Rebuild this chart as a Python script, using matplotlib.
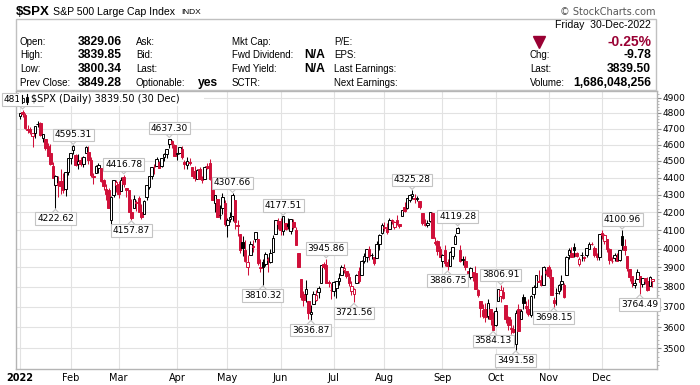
import numpy as np
import pandas as pd
import matplotlib
matplotlib.use("Agg")
import matplotlib.pyplot as plt
from matplotlib.lines import Line2D
from matplotlib.patches import Rectangle
from matplotlib.ticker import FixedLocator, FixedFormatter, NullFormatter

# trading days of 2022, by month
trading_days = {
    1: [3, 4, 5, 6, 7, 10, 11, 12, 13, 14, 18, 19, 20, 21, 24, 25, 26, 27, 28, 31],
    2: [1, 2, 3, 4, 7, 8, 9, 10, 11, 14, 15, 16, 17, 18, 22, 23, 24, 25, 28],
    3: [1, 2, 3, 4, 7, 8, 9, 10, 11, 14, 15, 16, 17, 18, 21, 22, 23, 24, 25, 28, 29, 30, 31],
    4: [1, 4, 5, 6, 7, 8, 11, 12, 13, 14, 18, 19, 20, 21, 22, 25, 26, 27, 28, 29],
    5: [2, 3, 4, 5, 6, 9, 10, 11, 12, 13, 16, 17, 18, 19, 20, 23, 24, 25, 26, 27, 31],
    6: [1, 2, 3, 6, 7, 8, 9, 10, 13, 14, 15, 16, 17, 21, 22, 23, 24, 27, 28, 29, 30],
    7: [1, 5, 6, 7, 8, 11, 12, 13, 14, 15, 18, 19, 20, 21, 22, 25, 26, 27, 28, 29],
    8: [1, 2, 3, 4, 5, 8, 9, 10, 11, 12, 15, 16, 17, 18, 19, 22, 23, 24, 25, 26, 29, 30, 31],
    9: [1, 2, 6, 7, 8, 9, 12, 13, 14, 15, 16, 19, 20, 21, 22, 23, 26, 27, 28, 29, 30],
    10: [3, 4, 5, 6, 7, 10, 11, 12, 13, 14, 17, 18, 19, 20, 21, 24, 25, 26, 27, 28, 31],
    11: [1, 2, 3, 4, 7, 8, 9, 10, 11, 14, 15, 16, 17, 18, 21, 22, 23, 25, 28, 29, 30],
    12: [1, 2, 5, 6, 7, 8, 9, 12, 13, 14, 15, 16, 19, 20, 21, 22, 23, 27, 28, 29, 30],
}

opens = [
    4778.14, 4804.51, 4787.99, 4693.39, 4697.66, 4655.34, 4669.14, 4728.59, 4733.56, 4637.99,
    4632.24, 4588.03, 4547.35, 4471.38, 4356.32, 4366.64, 4380.58, 4380.58, 4336.19, 4431.79,
    4519.57, 4566.39, 4535.41, 4482.79, 4505.75, 4480.02, 4547.00, 4553.24, 4506.27, 4412.61,
    4429.28, 4455.75, 4456.06, 4384.57, 4332.74, 4324.93, 4155.77, 4298.38, 4354.17,
    4363.14, 4322.56, 4401.31, 4342.12, 4327.01, 4202.66, 4223.10, 4252.55, 4279.50, 4202.75,
    4188.82, 4288.14, 4345.11, 4407.34, 4462.40, 4469.10, 4493.10, 4469.98, 4522.91, 4541.09,
    4602.86, 4624.20, 4599.02,
    4540.32, 4547.97, 4572.45, 4494.17, 4474.65, 4494.15, 4462.64, 4437.59, 4394.30, 4449.12,
    4385.63, 4390.63, 4472.26, 4489.17, 4385.83, 4255.34, 4278.14, 4186.52, 4222.58, 4253.75,
    4130.61, 4159.78, 4181.18, 4270.43, 4128.17, 4081.27, 4035.18, 3990.08, 3903.95, 3963.90,
    4013.02, 4052.00, 4051.98, 3899.00, 3927.76, 3919.42, 3942.94, 3929.59, 3984.60, 4077.43,
    4151.09,
    4149.78, 4095.41, 4137.57, 4134.72, 4096.47, 4147.12, 4101.65, 3974.39, 3838.15, 3763.52,
    3764.05, 3728.18, 3665.90, 3715.31, 3733.89, 3774.71, 3821.75, 3920.76, 3913.00, 3825.09,
    3785.99,
    3781.00, 3792.61, 3831.98, 3858.85, 3888.26, 3880.94, 3851.95, 3779.67, 3763.99, 3818.00,
    3883.79, 3860.73, 3935.32, 3955.47, 3998.43, 3965.72, 3953.22, 3951.43, 4026.13, 4087.33,
    4112.38, 4104.21, 4107.96, 4154.85, 4115.87, 4155.93, 4133.11, 4181.02, 4227.40, 4225.02,
    4269.37, 4290.46, 4280.40, 4273.13, 4266.31, 4195.08, 4133.09, 4126.55, 4153.26, 4198.74,
    4034.58, 4041.25, 4000.67,
    3936.73, 3994.66, 3930.89, 3909.43, 3959.94, 4022.94, 4083.67, 3990.97, 3940.73, 3932.41,
    3880.95, 3849.91, 3875.23, 3871.40, 3782.36, 3727.14, 3682.72, 3686.44, 3651.94, 3687.01,
    3633.48,
    3609.78, 3726.46, 3753.25, 3771.97, 3706.74, 3647.51, 3595.86, 3590.83, 3520.37, 3690.41,
    3638.65, 3746.26, 3703.11, 3689.05, 3657.10, 3762.01, 3799.44, 3825.97, 3834.69, 3808.26,
    3881.85,
    3901.79, 3852.90, 3733.25, 3766.98, 3780.71, 3817.02, 3810.94, 3859.89, 3963.72, 3977.97,
    4006.41, 3976.82, 3919.26, 3966.39, 3956.23, 3965.51, 4000.30, 4023.34, 4005.36, 3964.19,
    3957.18,
    4087.14, 4040.17, 4052.02, 3996.63, 3933.28, 3947.79, 3954.17, 3939.29, 4069.38, 4015.54,
    3958.37, 3890.91, 3853.79, 3810.47, 3839.49, 3853.26, 3815.11, 3843.34, 3829.56, 3805.45,
    3829.06,
]
highs = [
    4796.64, 4818.62, 4797.70, 4725.01, 4707.95, 4673.02, 4714.13, 4748.83, 4744.13, 4665.13,
    4632.24, 4611.55, 4602.11, 4494.52, 4417.35, 4411.01, 4453.23, 4428.74, 4432.72, 4516.89,
    4550.49, 4595.31, 4542.88, 4539.66, 4521.86, 4531.32, 4590.03, 4588.92, 4526.33, 4426.22,
    4472.77, 4489.55, 4456.06, 4394.60, 4362.12, 4341.51, 4294.73, 4385.34, 4388.84,
    4378.45, 4401.48, 4416.78, 4342.12, 4327.01, 4276.94, 4299.40, 4268.28, 4291.01, 4247.57,
    4271.05, 4357.86, 4412.67, 4465.40, 4481.75, 4522.00, 4501.07, 4520.58, 4546.03, 4575.65,
    4637.30, 4627.77, 4603.07,
    4548.70, 4583.50, 4593.45, 4503.94, 4521.16, 4520.41, 4464.35, 4471.00, 4453.92, 4460.46,
    4410.31, 4471.03, 4488.29, 4512.94, 4385.83, 4299.02, 4278.14, 4240.71, 4308.45, 4269.68,
    4169.81, 4200.10, 4307.66, 4270.43, 4157.69, 4081.27, 4068.82, 4049.09, 3964.80, 4038.88,
    4046.46, 4090.72, 4051.98, 3945.96, 3943.42, 3981.88, 3955.68, 3999.33, 4075.14, 4158.49,
    4168.34,
    4166.54, 4177.51, 4142.67, 4168.78, 4164.86, 4160.14, 4119.10, 3974.39, 3838.15, 3778.18,
    3837.56, 3728.18, 3707.71, 3779.65, 3785.99, 3802.58, 3913.65, 3927.72, 3945.86, 3836.50,
    3818.99,
    3829.82, 3832.19, 3870.91, 3910.63, 3918.50, 3880.94, 3873.41, 3829.44, 3796.41, 3863.62,
    3902.44, 3939.81, 3974.13, 3999.29, 4012.44, 3975.30, 3953.22, 4039.56, 4078.95, 4140.15,
    4144.95, 4140.47, 4167.66, 4161.29, 4151.58, 4186.62, 4137.30, 4211.03, 4257.91, 4280.47,
    4301.79, 4325.28, 4302.18, 4292.53, 4266.31, 4195.08, 4159.77, 4156.56, 4200.54, 4203.04,
    4062.99, 4044.98, 4015.37,
    3970.23, 4018.43, 3942.55, 3987.89, 4010.50, 4076.81, 4119.28, 4017.42, 3961.94, 3959.14,
    3880.95, 3900.45, 3876.01, 3907.07, 3790.68, 3727.14, 3715.67, 3717.53, 3736.74, 3687.01,
    3671.44,
    3698.35, 3790.93, 3806.91, 3797.93, 3706.74, 3652.17, 3640.66, 3608.34, 3685.41, 3712.00,
    3689.73, 3762.79, 3728.58, 3736.00, 3757.89, 3810.74, 3862.85, 3886.15, 3859.95, 3905.42,
    3893.73,
    3911.79, 3894.44, 3750.59, 3796.34, 3813.95, 3859.40, 3818.20, 3958.33, 4001.48, 4008.97,
    4028.84, 3983.09, 3954.33, 3979.89, 3962.00, 4005.88, 4033.78, 4034.02, 4012.27, 3976.77,
    4080.11,
    4100.51, 4080.48, 4052.45, 4001.51, 3957.57, 3974.19, 3977.02, 3990.71, 4100.96, 4053.76,
    3958.37, 3890.91, 3854.86, 3838.24, 3889.82, 3853.26, 3845.80, 3846.65, 3848.32, 3858.19,
    3839.85,
]
lows = [
    4758.17, 4774.27, 4699.44, 4671.26, 4662.74, 4582.24, 4638.27, 4706.71, 4650.29, 4614.75,
    4568.70, 4530.20, 4477.95, 4395.34, 4222.62, 4287.11, 4304.80, 4309.50, 4292.46, 4414.02,
    4483.53, 4544.32, 4470.39, 4451.50, 4471.47, 4465.40, 4547.00, 4484.31, 4401.41, 4364.84,
    4429.28, 4429.68, 4373.81, 4327.22, 4267.11, 4221.51, 4114.65, 4286.83, 4315.12,
    4279.54, 4322.56, 4345.56, 4284.98, 4199.85, 4157.87, 4223.10, 4209.80, 4200.49, 4161.72,
    4187.90, 4267.66, 4335.65, 4390.57, 4424.30, 4469.10, 4455.81, 4465.17, 4501.07, 4517.69,
    4581.34, 4581.32, 4530.41,
    4507.57, 4539.21, 4514.17, 4450.04, 4450.30, 4474.60, 4408.38, 4381.34, 4392.70, 4390.77,
    4370.30, 4390.63, 4448.76, 4384.47, 4267.62, 4200.82, 4175.04, 4162.90, 4188.63, 4124.28,
    4062.51, 4147.08, 4148.91, 4106.01, 4067.91, 3975.48, 3958.17, 3928.82, 3858.87, 3963.90,
    3983.99, 4033.93, 3911.91, 3876.58, 3810.32, 3909.04, 3875.13, 3925.03, 3984.60, 4077.43,
    4104.88,
    4073.85, 4074.37, 4098.67, 4109.18, 4080.19, 4107.20, 4017.17, 3900.16, 3734.30, 3705.68,
    3722.30, 3639.77, 3636.87, 3715.31, 3729.25, 3743.52, 3821.75, 3889.66, 3820.14, 3799.02,
    3738.67,
    3752.10, 3742.06, 3809.37, 3858.85, 3869.34, 3847.22, 3802.36, 3758.89, 3721.56, 3817.18,
    3818.63, 3860.73, 3922.03, 3927.64, 3938.85, 3943.46, 3910.74, 3951.43, 3992.97, 4079.22,
    4096.02, 4079.81, 4107.96, 4135.42, 4107.31, 4128.97, 4112.09, 4177.26, 4201.41, 4219.78,
    4256.90, 4277.77, 4253.08, 4261.98, 4218.70, 4129.86, 4124.03, 4119.97, 4147.59, 4057.66,
    4017.42, 3965.21, 3954.53,
    3903.65, 3906.21, 3886.75, 3906.03, 3944.81, 4022.94, 4083.67, 3928.77, 3912.77, 3888.28,
    3837.08, 3838.50, 3827.54, 3789.49, 3749.02, 3647.47, 3644.76, 3623.29, 3640.61, 3610.40,
    3584.13,
    3604.93, 3726.46, 3722.66, 3739.22, 3620.73, 3588.10, 3568.45, 3573.86, 3491.58, 3579.68,
    3638.65, 3686.53, 3666.51, 3656.44, 3647.42, 3741.65, 3799.44, 3824.07, 3803.79, 3808.26,
    3863.18,
    3843.80, 3758.68, 3698.15, 3708.84, 3764.70, 3786.28, 3744.22, 3859.89, 3944.82, 3956.40,
    3953.17, 3954.34, 3906.54, 3935.98, 3933.34, 3956.88, 3998.66, 4020.76, 3955.77, 3937.65,
    3938.58,
    4050.87, 4026.63, 3984.49, 3918.39, 3922.68, 3935.83, 3933.04, 3935.30, 3993.03, 3965.65,
    3879.45, 3827.91, 3800.04, 3795.62, 3839.49, 3764.49, 3797.01, 3813.22, 3780.78, 3805.45,
    3800.34,
]
closes = [
    4796.56, 4793.54, 4700.58, 4696.05, 4677.03, 4670.29, 4713.07, 4726.35, 4659.03, 4662.85,
    4577.11, 4532.76, 4482.73, 4397.94, 4410.13, 4356.45, 4349.93, 4326.51, 4431.85, 4515.55,
    4546.54, 4589.38, 4477.44, 4500.53, 4483.87, 4521.54, 4587.18, 4504.08, 4418.64, 4401.67,
    4471.07, 4475.01, 4380.26, 4348.87, 4304.76, 4225.50, 4288.70, 4384.65, 4373.94,
    4306.26, 4386.54, 4363.49, 4328.87, 4201.09, 4170.70, 4277.88, 4259.52, 4204.31, 4173.11,
    4262.45, 4357.86, 4411.67, 4463.12, 4461.18, 4511.61, 4456.24, 4520.16, 4543.06, 4575.52,
    4631.60, 4602.45, 4530.41,
    4545.86, 4582.64, 4525.12, 4481.15, 4500.21, 4488.28, 4412.53, 4397.45, 4446.59, 4392.59,
    4391.69, 4462.21, 4459.45, 4393.66, 4271.78, 4296.12, 4175.20, 4183.96, 4287.50, 4131.93,
    4155.38, 4175.48, 4300.17, 4146.87, 4123.34, 3991.24, 4001.05, 3935.18, 3930.08, 4023.89,
    4008.01, 4088.85, 3923.68, 3900.79, 3901.36, 3973.75, 3941.48, 3978.73, 4057.84, 4158.24,
    4132.15,
    4101.23, 4176.82, 4108.54, 4121.43, 4160.68, 4115.77, 4017.82, 3900.86, 3749.63, 3735.48,
    3789.99, 3666.77, 3674.84, 3764.79, 3759.89, 3795.73, 3911.74, 3900.11, 3821.55, 3818.83,
    3785.38,
    3825.33, 3831.39, 3845.08, 3902.62, 3899.38, 3854.43, 3818.80, 3801.78, 3790.38, 3863.16,
    3830.85, 3936.69, 3959.90, 3998.95, 3961.63, 3966.84, 3921.05, 4023.61, 4072.43, 4130.29,
    4118.63, 4091.19, 4155.17, 4151.94, 4145.19, 4140.06, 4122.47, 4210.24, 4207.27, 4280.15,
    4297.14, 4305.20, 4274.04, 4283.74, 4228.48, 4137.99, 4128.73, 4140.77, 4199.12, 4057.66,
    4030.61, 3986.16, 3955.00,
    3966.85, 3924.26, 3908.19, 3979.87, 4006.18, 4067.36, 4110.41, 3932.69, 3946.01, 3901.35,
    3873.33, 3899.89, 3855.93, 3789.93, 3757.99, 3693.23, 3655.04, 3647.29, 3719.04, 3640.47,
    3585.62,
    3678.43, 3790.93, 3783.28, 3744.52, 3639.66, 3612.39, 3588.84, 3577.03, 3669.91, 3583.07,
    3677.95, 3719.98, 3695.16, 3665.78, 3752.75, 3797.34, 3859.11, 3830.60, 3807.30, 3901.06,
    3871.98,
    3856.10, 3759.69, 3719.89, 3770.55, 3806.80, 3828.11, 3748.57, 3956.37, 3992.93, 3957.25,
    3991.73, 3958.79, 3946.56, 3965.34, 3949.94, 4003.58, 4027.26, 4026.12, 3963.94, 3957.63,
    4080.11,
    4076.57, 4071.70, 3998.84, 3941.26, 3933.92, 3963.51, 3934.38, 3990.56, 4019.65, 3995.32,
    3895.75, 3852.36, 3817.66, 3821.62, 3878.44, 3822.39, 3844.82, 3829.25, 3783.22, 3849.28,
    3839.50,
]
prev_close_2021 = 4766.18

# swing labels: date, which side
tag_dates = ['2022-01-04', '2022-01-24', '2022-02-02', '2022-03-03', '2022-03-08',
             '2022-03-29', '2022-05-04', '2022-05-20', '2022-06-02', '2022-06-17',
             '2022-06-28', '2022-07-14', '2022-08-16', '2022-09-06', '2022-09-12',
             '2022-09-30', '2022-10-05', '2022-10-13', '2022-11-03', '2022-12-13',
             '2022-12-22']
tag_sides = ['hi', 'lo', 'hi', 'hi', 'lo', 'hi', 'hi', 'lo', 'hi', 'lo', 'hi', 'lo',
             'hi', 'lo', 'hi', 'lo', 'hi', 'lo', 'lo', 'hi', 'lo']

month_labels = ['2022', 'Feb', 'Mar', 'Apr', 'May', 'Jun', 'Jul', 'Aug', 'Sep',
                'Oct', 'Nov', 'Dec']
y_ticks = [3500, 3600, 3700, 3800, 3900, 4000, 4100, 4200, 4300, 4400, 4500, 4600,
           4700, 4800, 4900]

RED = '#d0103a'
DARKRED = '#990033'
GRID = '#e2e2e2'
BORDER = '#b4b4b4'
W, H = 700, 385

dates = pd.to_datetime([f'2022-{m:02d}-{d:02d}' for m, days in trading_days.items() for d in days])
o = np.array(opens)
h = np.array(highs)
l = np.array(lows)
c = np.array(closes)
x = np.arange(len(dates))
prev = np.r_[prev_close_2021, c[:-1]]
col = np.where(c >= prev, 'black', RED)
face = np.where(c > o, 'white', col)

fig = plt.figure(figsize=(W / 100, H / 100), dpi=100)
ax = fig.add_axes([16 / W, 1 - 369 / H, 641 / W, 278 / H])
ax.set_yscale('log')
ax.set_xlim(-1.6, 251.8)
ax.set_ylim(3403, 4943)

month_pos = [int(np.argmax(dates.month == m)) for m in range(1, 13)]
ax.set_xticks(month_pos)
ax.set_xticklabels(month_labels, fontsize=7, family='DejaVu Sans')
ax.get_xticklabels()[0].set_fontweight('bold')
ax.tick_params(axis='x', length=0, pad=3)

ax.yaxis.tick_right()
ax.yaxis.set_major_locator(FixedLocator(y_ticks))
ax.yaxis.set_major_formatter(FixedFormatter([str(v) for v in y_ticks]))
ax.yaxis.set_minor_locator(FixedLocator(np.arange(3420, 4940, 20)))
ax.yaxis.set_minor_formatter(NullFormatter())
ax.tick_params(axis='y', which='major', length=3, width=0.8, color='#888888',
               labelsize=6.5, pad=1)
ax.tick_params(axis='y', which='minor', length=1.5, width=0.6, color='#aaaaaa')
ax.grid(True, which='major', color=GRID, lw=0.8)
ax.set_axisbelow(True)
for s in ax.spines.values():
    s.set_color(BORDER)
    s.set_linewidth(1)

# candles
ax.vlines(x, l, h, colors=col, lw=0.75, zorder=2)
body_lo = np.minimum(o, c)
body_h = np.maximum(np.abs(c - o), 0.8)
ax.bar(x, body_h, bottom=body_lo, width=1.0, color=face, edgecolor=col,
       linewidth=0.7, zorder=3)

fig.canvas.draw()


def to_fig(px, py):
    return px / W, 1 - py / H


# swing labels with pointer
for d, side in zip(tag_dates, tag_sides):
    i = int(np.where(dates == pd.Timestamp(d))[0][0])
    val = h[i] if side == 'hi' else l[i]
    px, py = ax.transData.transform((i, val))
    py = H - py
    sgn = -1 if side == 'hi' else 1
    fx, fy = to_fig(px, py + sgn * 10.5)
    fig.text(fx, fy, f'{val:.2f}', ha='center', va='center', fontsize=6.5,
             family='DejaVu Sans', zorder=6,
             bbox=dict(boxstyle='square,pad=0.2', fc='white', ec='#c4c4c4', lw=0.8))
    xs = [px - 4, px, px + 4]
    ys = [py + sgn * 5, py + sgn * 1, py + sgn * 5]
    fx, fy = zip(*[to_fig(a, b) for a, b in zip(xs, ys)])
    fig.add_artist(Line2D(fx, fy, color='#c4c4c4', lw=0.8, zorder=6))

# legend inside the chart (covers most of the first label, as in the source)
fig.add_artist(Rectangle(to_fig(19, 106), 185 / W, 13 / H, transform=fig.transFigure,
                         fc='white', ec='none', zorder=7))
fx, fy = to_fig(22.5, 99)
fig.add_artist(Line2D([fx, fx], [to_fig(0, 103)[1], to_fig(0, 95)[1]], color='black', lw=0.8, zorder=8))
fig.add_artist(Rectangle(to_fig(21.5, 101.5), 2 / W, 4 / H, transform=fig.transFigure,
                         fc='white', ec='black', lw=0.6, zorder=9))
fx2 = to_fig(27, 0)[0]
fig.add_artist(Line2D([fx2, fx2], [to_fig(0, 104)[1], to_fig(0, 94)[1]], color='black', lw=0.8, zorder=8))
fig.add_artist(Rectangle(to_fig(26, 102), 2 / W, 5 / H, transform=fig.transFigure,
                         fc='black', ec='black', lw=0.6, zorder=9))
fig.text(*to_fig(31, 99), '$SPX (Daily) 3839.50 (30 Dec)', fontsize=7,
         family='DejaVu Sans', va='center', ha='left', zorder=9)

# header
HF = 'Liberation Sans'


def ftext(px, py, s, size=7, weight='normal', ha='left', color='black', family=HF):
    fig.text(*to_fig(px, py), s, fontsize=size, fontweight=weight, ha=ha, va='center',
             color=color, family=family)


ftext(16, 12, '$SPX', size=9.5, weight='bold')
ftext(53, 12, 'S&P 500 Large Cap Index', size=7.6)
ftext(181, 12.5, 'INDX', size=6)
ftext(656, 12, '\u00a9 StockCharts.com', size=7, color='#555555', ha='right', family='DejaVu Sans')

fig.add_artist(Rectangle(to_fig(16, 90), 640 / W, 71 / H, transform=fig.transFigure,
                         fill=False, ec='#c0c0c0', lw=1))

rows_y = [41.7, 55.5, 69.5, 83.3]
left_labels = ['Open:', 'High:', 'Low:', 'Prev Close:']
left_values = ['3829.06', '3839.85', '3800.34', '3849.28']
mid_labels = ['Ask:', 'Bid:', 'Last:', 'Optionable:']
mid_values = ['', '', '', 'yes']
cap_labels = ['Mkt Cap:', 'Fwd Dividend:', 'Fwd Yield:', 'SCTR:']
cap_values = ['', 'N/A', 'N/A', '']
pe_labels = ['P/E:', 'EPS:', 'Last Earnings:', 'Next Earnings:']
quote_labels = ['', 'Chg:', 'Last:', 'Volume:']
quote_values = ['-0.25%', '-9.78', '3839.50', '1,686,048,256']

for k, y in enumerate(rows_y):
    ftext(20, y, left_labels[k])
    ftext(122, y, left_values[k], size=8.7, weight='bold', ha='right')
    ftext(136, y, mid_labels[k])
    if mid_values[k]:
        ftext(218, y, mid_values[k], size=8.7, weight='bold', ha='right')
    ftext(232, y, cap_labels[k])
    if cap_values[k]:
        ftext(325, y, cap_values[k], size=8.7, weight='bold', ha='right')
    ftext(334, y, pe_labels[k])
    if quote_labels[k]:
        ftext(530, y, quote_labels[k])
    if k == 0:
        ftext(651, y, quote_values[k], size=10, weight='bold', ha='right', color=DARKRED)
    else:
        ftext(651, y, quote_values[k], size=8.7, weight='bold', ha='right')

ftext(651, 25, 'Friday  30-Dec-2022', size=7.6, ha='right')
tx, ty = to_fig(539, 42)
fig.add_artist(Line2D([tx], [ty], marker='v', markersize=8, color=DARKRED, ls='none'))

fig.savefig('out.png', dpi=100)
